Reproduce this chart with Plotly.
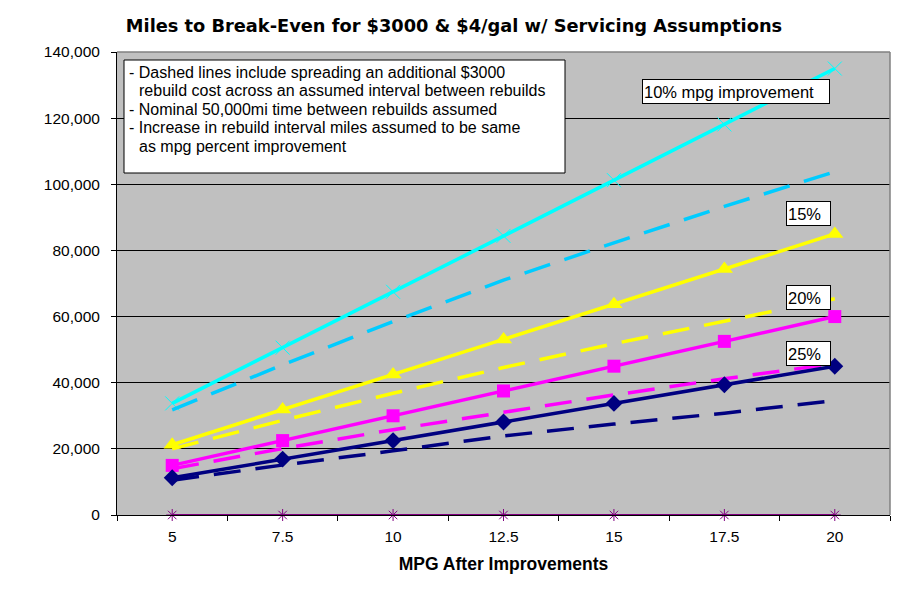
import plotly.graph_objects as go

# ---- data ----
mpg = [5, 7.5, 10, 12.5, 15, 17.5, 20]
mpg_labels = ["5", "7.5", "10", "12.5", "15", "17.5", "20"]

solid_10 = [33750, 50600, 67500, 84400, 101250, 118100, 135000]
dashed_10 = [31800, 45400, 58500, 71000, 82300, 93300, 103800]
solid_15 = [21250, 31900, 42500, 53100, 63750, 74400, 85000]
dashed_15 = [20000, 28600, 36800, 44600, 51800, 58700, 65400]
solid_20 = [15000, 22500, 30000, 37500, 45000, 52500, 60000]
dashed_20 = [14000, 20100, 25800, 31100, 36300, 41200, 45800]
solid_25 = [11250, 16900, 22500, 28100, 33750, 39400, 45000]
dashed_25 = [10500, 15100, 19400, 23900, 27500, 30800, 34600]
zero_series = [0, 0, 0, 0, 0, 0, 0]

title_text = "Miles to Break-Even for $3000 & $4/gal w/ Servicing Assumptions"
x_title = "MPG After Improvements"
note_lines = [
    "- Dashed lines include spreading an additional $3000",
    "rebuild cost across an assumed interval between rebuilds",
    "- Nominal 50,000mi time between rebuilds assumed",
    "- Increase in rebuild interval miles assumed to be same",
    "as mpg percent improvement",
]

FONT = "Liberation Sans, Arial, sans-serif"
W, H = 900, 612
OFF = 8  # page offset of the rendered figure
L, R, T, B = 117, 890, 52, 515


def px_x(p):
    return (p - L) / (R - L)


def px_y(p):
    return (B - p) / (B - T)


fig = go.Figure()

DASH = "27px,15px"
LW = 3.5

fig.add_trace(go.Scatter(x=mpg, y=zero_series, mode="lines+markers",
                         line=dict(color="#800080", width=2),
                         marker=dict(symbol="asterisk-open", size=10,
                                     line=dict(color="#800080", width=1)),
                         cliponaxis=False))

pairs = [
    (solid_10, dashed_10, "#00FFFF", "#00CCFF", "x-thin-open", 14),
    (solid_15, dashed_15, "#FFFF00", "#FFFF00", "triangle-up", 15),
    (solid_20, dashed_20, "#FF00FF", "#FF00FF", "square", 13),
    (solid_25, dashed_25, "#000080", "#000080", "diamond", 13),
]
for s, d, c_s, c_d, sym, sz in pairs:
    fig.add_trace(go.Scatter(x=mpg, y=s, mode="lines+markers",
                             line=dict(color=c_s, width=LW),
                             marker=dict(symbol=sym, size=sz, color=c_s,
                                         line=dict(color=c_s, width=1 if "x" in sym else 0))))
    fig.add_trace(go.Scatter(x=mpg, y=d, mode="lines",
                             line=dict(color=c_d, width=LW, dash=DASH)))

# border (top, right) gray
fig.add_shape(type="line", xref="paper", yref="paper", x0=0, x1=1, y0=1, y1=1,
              line=dict(color="#808080", width=1.5), layer="above")
fig.add_shape(type="line", xref="paper", yref="paper", x0=1, x1=1, y0=0, y1=1,
              line=dict(color="#808080", width=1.5), layer="above")

# note box
fig.add_shape(type="rect", xref="paper", yref="paper",
              x0=px_x(124), x1=px_x(565), y0=px_y(173), y1=px_y(60),
              line=dict(color="black", width=1), fillcolor="white", layer="above")
line_y = [72.3, 90.7, 109.3, 127.3, 146.7]
line_x = [127, 137, 127, 127, 137]
for txt, yy, xx in zip(note_lines, line_y, line_x):
    fig.add_annotation(text=txt, xref="paper", yref="paper", x=px_x(xx), y=px_y(yy),
                       xanchor="left", yanchor="middle", showarrow=False,
                       font=dict(family=FONT, size=16, color="black"))

# series labels
labels = [
    ("10% mpg improvement", 642, 830, 79, 104),
    ("15%", 786, 831, 201, 226),
    ("20%", 786, 831, 285, 310),
    ("25%", 786, 831, 341, 366),
]
for txt, x0, x1, y0, y1 in labels:
    fig.add_annotation(text=txt, xref="paper", yref="paper",
                       x=px_x((x0 + x1) / 2), y=px_y((y0 + y1) / 2),
                       xanchor="center", yanchor="middle", showarrow=False,
                       width=x1 - x0 - 4, height=y1 - y0 - 4, align="left",
                       bgcolor="white", bordercolor="black", borderwidth=1, borderpad=1,
                       font=dict(family=FONT, size=16.5, color="black"))

fig.update_layout(
    width=W, height=H,
    margin=dict(l=L - OFF, r=W - (R - OFF), t=T - OFF, b=H - (B - OFF), autoexpand=False),
    paper_bgcolor="white",
    plot_bgcolor="#C0C0C0",
    showlegend=False,
    font=dict(family=FONT, size=15, color="black"),
    title=dict(text="<b>" + title_text + "</b>", x=(454 - OFF) / W, xanchor="center",
               y=1 - (26 - OFF) / H, yanchor="middle", yref="container",
               font=dict(family="DejaVu Sans, " + FONT, size=17.8, color="black")),
    xaxis=dict(range=[3.75, 21.25], tickmode="array", tickvals=mpg, ticktext=mpg_labels,
               ticks="", showgrid=False, zeroline=False,
               showline=True, linecolor="black", linewidth=1,
               minor=dict(tick0=3.75, dtick=2.5, ticks="outside", ticklen=5,
                          tickcolor="black", tickwidth=1, showgrid=False),
               tickfont=dict(family=FONT, size=15.5, color="black"),
               ticklabelstandoff=7,
               title=dict(text="<b>" + x_title + "</b>", standoff=14,
                          font=dict(family=FONT, size=17.5, color="black"))),
    yaxis=dict(range=[0, 140000], dtick=20000, tickformat=",d",
               ticks="outside", ticklen=5, tickcolor="black",
               showgrid=True, gridcolor="black", gridwidth=1, zeroline=False,
               showline=True, linecolor="black", linewidth=1,
               tickfont=dict(family=FONT, size=15.5, color="black"),
               ticklabelstandoff=8),
)

fig.write_html("out.html")
